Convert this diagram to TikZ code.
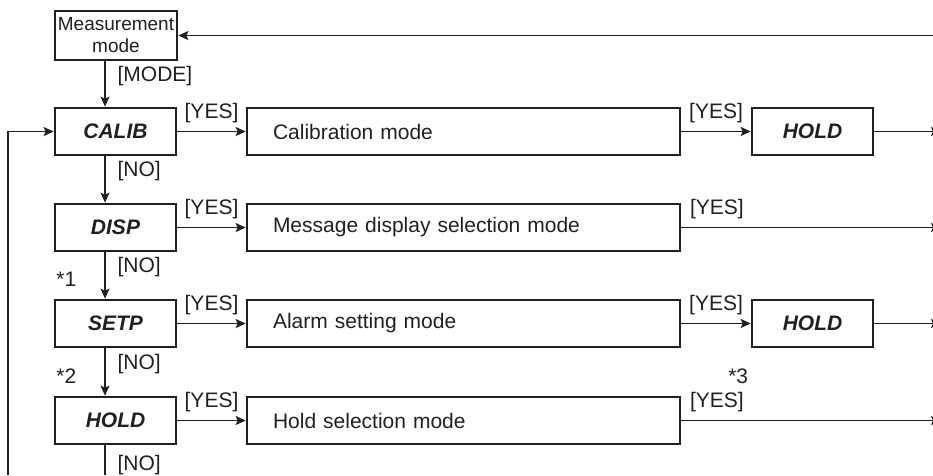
\documentclass[tikz,border=0pt]{standalone}
\usepackage{fontspec}
\setmainfont{Liberation Sans}
\usepackage{xcolor}
\usetikzlibrary{arrows.meta}
\definecolor{ink}{HTML}{231F20}

\begin{document}
\begin{tikzpicture}[x=1pt,y=-1pt,color=ink,
  keybox/.style={draw,line width=2.7pt,minimum width=121pt,minimum height=47pt,
    font=\fontsize{21}{25}\selectfont\bfseries\itshape},
  modebox/.style={draw,line width=2.7pt,minimum height=47pt,text width=381pt,
    inner xsep=26pt,align=left,font=\fontsize{21}{25}\selectfont},
  yes/.style={inner sep=0pt,above=8pt,font=\fontsize{21}{25}\selectfont},
  no/.style={inner sep=0pt,midway,right=12pt,yshift=8pt,font=\fontsize{21}{25}\selectfont},
  star/.style={inner sep=0pt,midway,left=28pt,yshift=-4pt,font=\fontsize{21}{25}\selectfont},
  flow/.style={line width=1.3pt,-{Stealth[length=10pt,width=9pt,inset=2pt]}}]
\useasboundingbox (0,0) rectangle (933,475);
\coordinate (spine) at (105,0);
\coordinate (rt) at (941,0);
\coordinate (lft) at (8,475);
\coordinate (bot) at (105,475);

% entry
\node[draw,line width=2.7pt,minimum width=122pt,minimum height=49pt,inner sep=1pt,
  align=center,font=\fontsize{19}{22}\selectfont] (meas) at (116,35.5) {Measurement\\mode};

% left column
\node[keybox] (calib) at (115.5,131.5) {CALIB};
\node[keybox] (disp) at (115.5,227.5) {DISP};
\node[keybox] (setp) at (115.5,323.5) {SETP};
\node[keybox] (hold) at (115.5,420.5) {HOLD};

% modes
\node[modebox] (calm) at (463.5,131.5) {Calibration mode};
\node[modebox] (dispm) at (463.5,227.5) {Message display selection mode};
\node[modebox] (setm) at (463.5,323.5) {Alarm setting mode};
\node[modebox] (holdm) at (463.5,420.5) {Hold selection mode};

\node[keybox] (calhold) at (812.5,131.5) {HOLD};
\node[keybox] (sethold) at (812.5,323.5) {HOLD};

% down the column
\draw[flow] (meas.south -| spine) -- node[no] {[MODE]} (calib.north -| spine);
\draw[flow] (calib.south -| spine) -- node[no] {[NO]} (disp.north -| spine);
\draw[flow] (disp.south -| spine) -- node[no] {[NO]} node[star] {*1} (setp.north -| spine);
\draw[flow] (setp.south -| spine) -- node[no] {[NO]} node[star] {*2} (hold.north -| spine);
\draw[line width=1.3pt] (hold.south -| spine) -- node[inner sep=0pt,pos=0,anchor=north west,
  xshift=12pt,yshift=-9pt,font=\fontsize{21}{25}\selectfont] {[NO]} (bot);

% YES branches
\foreach \k/\m in {calib/calm,disp/dispm,setp/setm,hold/holdm}
  \draw[flow] (\k.east) -- node[yes] {[YES]} (\m.west);
\draw[flow] (calm.east) -- node[yes] {[YES]} (calhold.west);
\draw[flow] (setm.east) -- node[yes] {[YES]} (sethold.west);
\draw[flow] (dispm.east) -- node[yes,pos=0,anchor=south west,xshift=8pt] {[YES]} (dispm -| rt);
\draw[flow] (holdm.east) -- node[yes,pos=0,anchor=south west,xshift=8pt] (y4) {[YES]} (holdm -| rt);
\node[inner sep=0pt,anchor=south east,font=\fontsize{21}{25}\selectfont] at ([xshift=4pt,yshift=8pt]y4.north east) {*3};

% exits and returns
\draw[flow] (calhold.east) -- (calhold -| rt);
\draw[flow] (sethold.east) -- (sethold -| rt);
\draw[flow] (meas -| rt) -- (meas.east);
\draw[flow] (lft) |- (calib.west);
\end{tikzpicture}
\end{document}
